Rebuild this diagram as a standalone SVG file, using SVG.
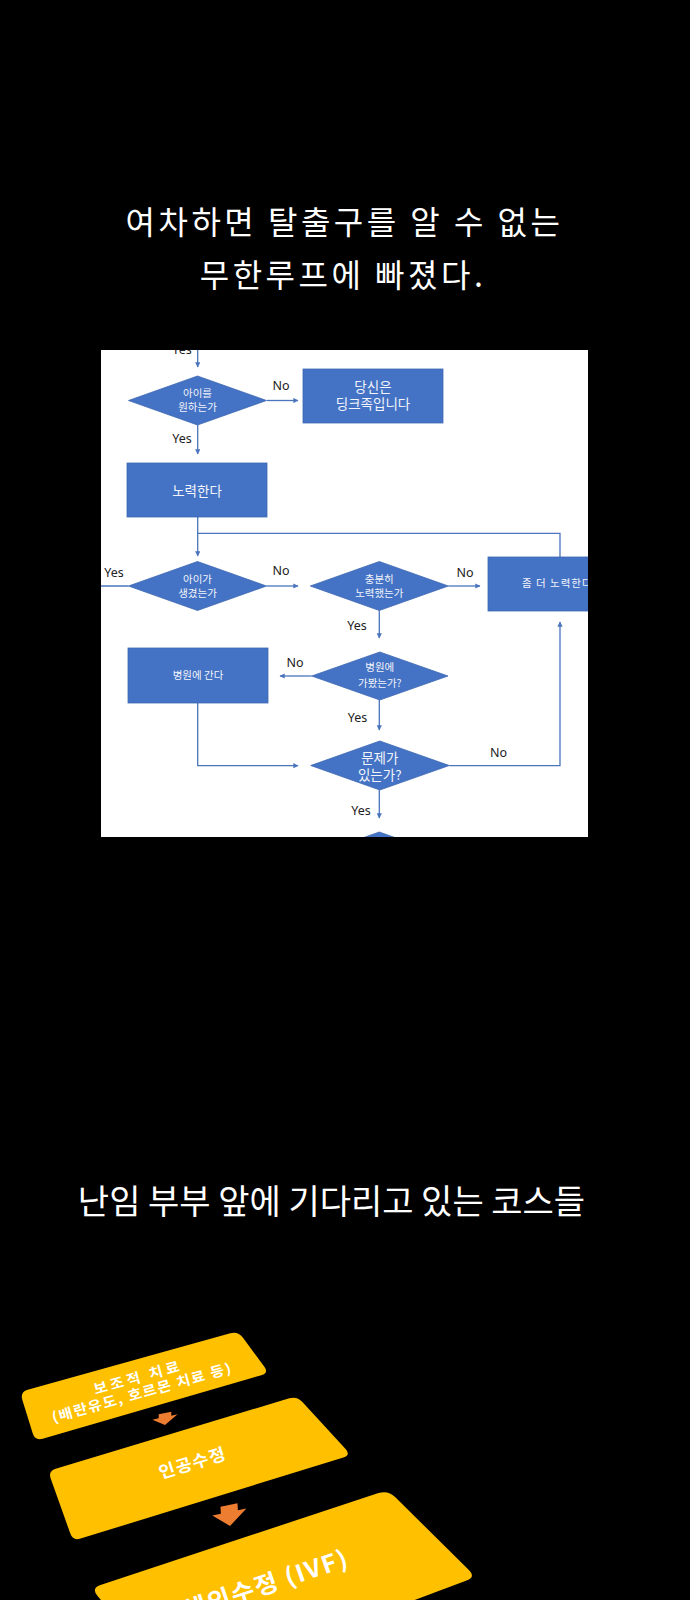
<svg xmlns="http://www.w3.org/2000/svg" width="690" height="1600" viewBox="0 0 690 1600">
<style>
.title{font-family:"Noto Sans CJK KR","Noto Sans",sans-serif;fill:#fff;text-anchor:middle}
.shape{fill:#4472C4;stroke:#3F68B3;stroke-width:0.8}
.nt{font-family:"Noto Sans CJK KR","Noto Sans",sans-serif;fill:#f2f5fb;text-anchor:middle}
.lbl{font-family:"Noto Sans","Liberation Sans",sans-serif;font-size:12.5px;fill:#222;text-anchor:middle}
.conn{fill:none;stroke:#4A75BD;stroke-width:1.3}
.card{fill:#FFC000}
.ct{font-family:"Noto Sans CJK KR","Noto Sans",sans-serif;font-weight:bold;fill:#fff;text-anchor:middle}
.oa{fill:#ED7D31}
</style>
<defs>
<marker id="ah" viewBox="0 0 10 10" refX="9" refY="5" markerWidth="4" markerHeight="4" orient="auto">
<path d="M0,0 L10,5 L0,10 z" fill="#4A75BD"/>
</marker>
<clipPath id="panel"><rect x="101" y="350" width="487" height="487"/></clipPath>
</defs>
<rect x="0" y="0" width="690" height="1600" fill="#000"/>

<g id="title1">
<text class="title" x="344.5" y="234" font-size="32" letter-spacing="3.5">여차하면 탈출구를 알 수 없는</text>
<text class="title" x="343" y="287" font-size="32" letter-spacing="3.5">무한루프에 빠졌다.</text>
</g>

<rect x="101" y="350" width="487" height="487" fill="#fff"/>
<g clip-path="url(#panel)">
<g id="connectors">
<path class="conn" d="M197.7,340 V367" marker-end="url(#ah)"/>
<path class="conn" d="M267,400.5 H298" marker-end="url(#ah)"/>
<path class="conn" d="M197.7,425 V454" marker-end="url(#ah)"/>
<path class="conn" d="M197.7,517 V556" marker-end="url(#ah)"/>
<path class="conn" d="M560,557 V533.3 H197.7"/>
<path class="conn" d="M95,586 H128.5"/>
<path class="conn" d="M266.5,586 H298" marker-end="url(#ah)"/>
<path class="conn" d="M448.3,586 H480" marker-end="url(#ah)"/>
<path class="conn" d="M379.3,610.5 V638" marker-end="url(#ah)"/>
<path class="conn" d="M311.7,676 H280" marker-end="url(#ah)"/>
<path class="conn" d="M379.3,700 V730" marker-end="url(#ah)"/>
<path class="conn" d="M197.7,702.7 V765.7 H298" marker-end="url(#ah)"/>
<path class="conn" d="M449.3,765.7 H560 V622" marker-end="url(#ah)"/>
<path class="conn" d="M379.3,790 V818" marker-end="url(#ah)"/>
</g>
<g id="labels">
<text class="lbl" x="182" y="354">Yes</text>
<text class="lbl" x="281" y="390">No</text>
<text class="lbl" x="182" y="443">Yes</text>
<text class="lbl" x="114" y="577">Yes</text>
<text class="lbl" x="281" y="575">No</text>
<text class="lbl" x="465" y="577">No</text>
<text class="lbl" x="357" y="630">Yes</text>
<text class="lbl" x="295" y="667">No</text>
<text class="lbl" x="357.5" y="722">Yes</text>
<text class="lbl" x="498.5" y="757">No</text>
<text class="lbl" x="361" y="815">Yes</text>
<text class="lbl" x="288" y="846">No</text>
</g>
<g id="d1">
<polygon class="shape" points="197.5,376 266.5,400.5 197.5,425 128.5,400.5"/>
<text class="nt" x="197.5" y="397" font-size="10.5">아이를</text>
<text class="nt" x="197.5" y="411" font-size="10.5">원하는가</text>
</g>
<g id="b1">
<rect class="shape" x="303" y="369" width="140" height="54"/>
<text class="nt" x="373" y="391.5" font-size="13.5">당신은</text>
<text class="nt" x="373" y="409" font-size="13.5">딩크족입니다</text>
</g>
<g id="b2">
<rect class="shape" x="127" y="463" width="140" height="54"/>
<text class="nt" x="197" y="495.5" font-size="13.5">노력한다</text>
</g>
<g id="d2">
<polygon class="shape" points="197.5,561.5 266.5,586 197.5,610.5 128.5,586"/>
<text class="nt" x="197.5" y="583" font-size="10.5">아이가</text>
<text class="nt" x="197.5" y="596.5" font-size="10.5">생겼는가</text>
</g>
<g id="d3">
<polygon class="shape" points="379.3,561.5 448.3,586 379.3,610.5 310.3,586"/>
<text class="nt" x="379.3" y="583" font-size="10.5">충분히</text>
<text class="nt" x="379.3" y="596.5" font-size="10.5">노력했는가</text>
</g>
<g id="b4">
<rect class="shape" x="488" y="557" width="120" height="54"/>
<text class="nt" x="522" y="587" font-size="10.5" letter-spacing="1" style="text-anchor:start">좀 더 노력한다</text>
</g>
<g id="d4">
<polygon class="shape" points="379.8,652 448,676 379.8,700 311.7,676"/>
<text class="nt" x="379.8" y="671" font-size="10.5">병원에</text>
<text class="nt" x="379.8" y="686.5" font-size="10.5">가봤는가?</text>
</g>
<g id="b3">
<rect class="shape" x="128" y="648" width="140" height="55"/>
<text class="nt" x="198" y="679" font-size="10.5">병원에 간다</text>
</g>
<g id="d5">
<polygon class="shape" points="379.8,741 449.3,765.5 379.8,790 310.7,765.5"/>
<text class="nt" x="379.8" y="763" font-size="13.5">문제가</text>
<text class="nt" x="379.8" y="780" font-size="13.5">있는가?</text>
</g>
<g id="d6">
<polygon class="shape" points="379.3,832 448.3,856.5 379.3,881 310.3,856.5"/>
</g>
</g>

<g id="title2">
<text class="title" x="331.5" y="1214" font-size="34">난임 부부 앞에 기다리고 있는 코스들</text>
</g>

<g id="card1">
<path class="card" d="M22.3,1399.7 Q20,1392 27.7,1389.8 L230.3,1333.2 Q238,1331 242.8,1337.4 L264.2,1366.6 Q269,1373 261.3,1375.2 L42.7,1438.8 Q35,1441 32.7,1433.3 Z"/>
<g transform="matrix(1.0,-0.28,0.25,0.92,140,1385)">
<text class="ct" x="0" y="-3" font-size="14.5" letter-spacing="3">보조적 치료</text>
<text class="ct" x="0" y="13.5" font-size="14.5" letter-spacing="1.3">(배란유도, 호르몬 치료 등)</text>
</g>
</g>
<g id="arrow1" transform="matrix(1.05,-0.22,0,0.8,165,1413)">
<polygon class="oa" points="-6,0 6,0 6,5 12,5 0,15 -12,5 -6,5"/>
</g>
<g id="card2">
<path class="card" d="M50.7,1478.5 Q48,1471 55.7,1468.7 L289.3,1398.3 Q297,1396 302.4,1401.9 L345.6,1449.1 Q351,1455 343.4,1457.4 L80.6,1538.6 Q73,1541 70.3,1533.5 Z"/>
<text class="ct" transform="matrix(1.0,-0.3,0.3,0.95,192.5,1463)" x="0" y="6" font-size="17" letter-spacing="1">인공수정</text>
</g>
<g id="arrow2" transform="matrix(1.42,-0.3,0.07,1.4,229,1505)">
<polygon class="oa" points="-6,0 6,0 6,5 12,5 0,15 -12,5 -6,5"/>
</g>
<g id="card3">
<path class="card" d="M97.4,1595.7 Q91,1588 100.5,1584.9 L378.5,1493.1 Q388,1490 395.1,1497 L468.9,1570 Q476,1577 466.6,1580.5 L175,1690 Z"/>
<text class="ct" transform="matrix(1.0,-0.33,0.33,0.95,266,1584)" x="0" y="9" font-size="24" letter-spacing="1.5">체외수정 (IVF)</text>
</g>
</svg>
